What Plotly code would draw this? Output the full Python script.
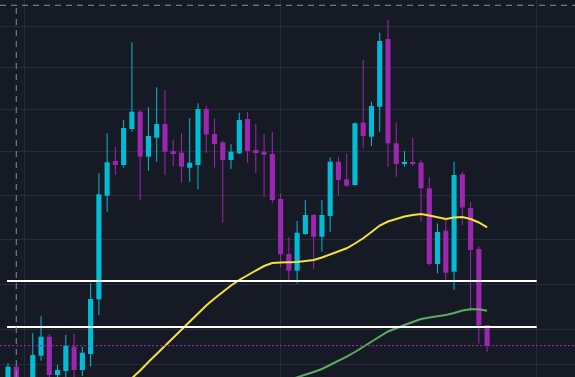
import pandas as pd
import plotly.graph_objects as go

# ---- data ----
dates = pd.date_range("2021-06-29", periods=59, freq="D")

open_ = [11.5, 13.33, 11.0, 10.5, 14.43, 16.33, 12.5, 12.9, 15.33, 13.0,
         14.6, 20.07, 30.43, 33.9, 33.5, 37.1, 38.83, 34.33, 36.23, 37.6,
         34.9, 34.73, 33.23, 33.5, 39.1, 36.6, 35.75, 34.0, 34.67, 38.1,
         35.0, 34.83, 34.6, 30.1, 24.6, 22.93, 26.6, 28.5, 26.33, 28.4,
         33.83, 32.07, 31.5, 37.73, 36.33, 39.33, 46.1, 35.67, 33.63, 33.77,
         33.73, 31.17, 23.6, 26.93, 22.83, 32.57, 29.2, 25.1, 17.5]
high = [13.67, 13.5, 11.8, 16.67, 18.4, 16.6, 13.5, 16.5, 16.6, 15.33,
        21.67, 32.67, 36.67, 35.33, 38.0, 45.77, 39.0, 39.27, 41.27, 41.0,
        36.0, 36.67, 38.2, 39.67, 39.43, 38.17, 35.93, 35.6, 38.73, 38.8,
        37.6, 36.6, 36.83, 30.67, 26.27, 27.9, 30.0, 28.6, 30.0, 34.27,
        34.33, 34.67, 37.75, 44.0, 39.83, 46.73, 48.0, 37.75, 34.9, 36.23,
        34.0, 32.3, 27.65, 28.07, 33.85, 32.83, 29.8, 25.37, 17.5]
low = [11.0, 10.8, 10.0, 10.2, 13.93, 12.2, 12.2, 12.25, 12.3, 12.4,
       13.33, 18.5, 28.83, 32.5, 33.23, 36.83, 30.0, 32.93, 33.83, 32.5,
       33.4, 31.73, 31.83, 31.07, 34.7, 33.25, 27.73, 33.1, 34.6, 33.73,
       32.7, 30.27, 29.67, 23.27, 21.8, 21.65, 26.55, 23.13, 24.83, 26.83,
       30.43, 31.33, 31.45, 35.17, 35.4, 36.83, 33.3, 32.33, 33.33, 33.4,
       27.83, 23.43, 22.67, 21.75, 21.0, 27.5, 18.9, 15.65, 14.83]
close = [13.33, 11.2, 10.4, 14.5, 16.33, 12.5, 13.0, 15.43, 13.0, 14.73,
         20.1, 30.57, 33.77, 33.5, 37.2, 38.83, 34.33, 36.4, 37.6, 34.83,
         34.6, 33.33, 33.73, 39.1, 36.55, 35.6, 34.0, 34.83, 38.0, 34.9,
         34.7, 34.53, 30.0, 24.57, 22.93, 26.73, 28.5, 26.33, 28.5, 33.83,
         32.0, 31.43, 37.67, 36.4, 39.4, 45.9, 35.67, 33.6, 33.77, 33.65,
         31.17, 23.6, 26.8, 22.73, 32.5, 29.25, 25.0, 17.45, 15.43]

ma_fast = [None] * 14 + [
    11.4, 12.15, 12.95, 13.8, 14.6, 15.4, 16.25, 17.1, 17.9, 18.7,
    19.45, 20.15, 20.8, 21.45, 22.0, 22.5, 22.95, 23.4, 23.7, 23.75,
    23.75, 23.8, 23.9, 24.0, 24.25, 24.55, 24.85, 25.17, 25.65, 26.17,
    26.8, 27.45, 27.85, 28.1, 28.35, 28.5, 28.6, 28.45, 28.25, 28.1,
    28.25, 28.3, 28.1, 27.75, 27.27]
ma_slow = [None] * 34 + [
    12.0, 12.25, 12.5, 12.8, 13.1, 13.5, 13.9, 14.33, 14.8, 15.33,
    15.9, 16.35, 16.85, 17.2, 17.5, 17.8, 18.1, 18.25, 18.35, 18.5,
    18.7, 18.95, 19.07, 19.07, 18.93]

levels = [21.9, 17.3]
level_end = "2021-09-01"
grid_prices = [47.4, 43.3, 39.1, 34.9, 30.5, 26.1, 21.6, 17.1, 13.6]
grid_dates = ["2021-07-01", "2021-08-01", "2021-09-01"]
cross_date = dates[1]
cross_price = 49.47
y_range = [12.3, 50.0]

UP = "#00bcd4"
DOWN = "#9c27b0"
BG = "#161a25"
GRID = "#262b37"

day = pd.Timedelta(days=1)
up_idx = [i for i in range(len(dates)) if close[i] >= open_[i]]
dn_idx = [i for i in range(len(dates)) if close[i] < open_[i]]

fig = go.Figure()


def wicks(idx, color):
    xs, ys = [], []
    for i in idx:
        xs += [dates[i], dates[i], None]
        ys += [low[i], high[i], None]
    return go.Scatter(x=xs, y=ys, mode="lines", line=dict(color=color, width=1),
                      hoverinfo="skip", showlegend=False)


def bodies(idx, color):
    return go.Bar(
        x=[dates[i] for i in idx],
        y=[max(abs(close[i] - open_[i]), 0.12) for i in idx],
        base=[min(open_[i], close[i]) for i in idx],
        width=0.62 * 86400000,
        marker=dict(color=color, line=dict(width=0)),
        showlegend=False,
    )


fig.add_trace(wicks(up_idx, UP))
fig.add_trace(wicks(dn_idx, DOWN))
fig.add_trace(bodies(up_idx, UP))
fig.add_trace(bodies(dn_idx, DOWN))

fig.add_trace(go.Scatter(x=dates, y=ma_fast, mode="lines",
                         line=dict(color="#f5e13c", width=2), showlegend=False))
fig.add_trace(go.Scatter(x=dates, y=ma_slow, mode="lines",
                         line=dict(color="#66bb6a", width=2), opacity=0.9,
                         showlegend=False))

shapes = []
for lv in levels:
    shapes.append(dict(type="line", xref="x", yref="y",
                       x0=dates[0] - 0.12 * day, x1=level_end, y0=lv, y1=lv,
                       line=dict(color="#ffffff", width=2)))
shapes.append(dict(type="line", xref="paper", yref="y", x0=0, x1=1,
                   y0=close[-1], y1=close[-1],
                   line=dict(color="#a52fbb", width=1, dash="2px,2px")))
shapes.append(dict(type="line", xref="paper", yref="y", x0=0, x1=1,
                   y0=cross_price, y1=cross_price,
                   line=dict(color="#8b8f9a", width=1, dash="6px,5px")))
shapes.append(dict(type="line", xref="x", yref="y", x0=cross_date, x1=cross_date,
                   y0=y_range[0], y1=cross_price,
                   line=dict(color="#8b8f9a", width=1, dash="6px,5px")))

x_start = dates[0] - 0.9685 * day
x_end = dates[0] + 68.64 * day

fig.update_layout(
    width=575, height=377,
    margin=dict(l=0, r=0, t=0, b=0),
    paper_bgcolor=BG, plot_bgcolor=BG,
    barmode="overlay",
    shapes=shapes,
    xaxis=dict(type="date", range=[x_start, x_end], tickmode="array",
               tickvals=grid_dates, showticklabels=False, showgrid=True,
               gridcolor=GRID, gridwidth=1, zeroline=False, showline=False,
               rangeslider=dict(visible=False), fixedrange=True),
    yaxis=dict(range=y_range, tickmode="array", tickvals=grid_prices,
               showticklabels=False, showgrid=True, gridcolor=GRID, gridwidth=1,
               zeroline=False, showline=False, fixedrange=True),
    hovermode=False,
)

fig.write_html(
    "out.html",
    config={"displayModeBar": False},
    post_script="document.body.style.margin='0';document.body.style.background='%s';" % BG,
)
